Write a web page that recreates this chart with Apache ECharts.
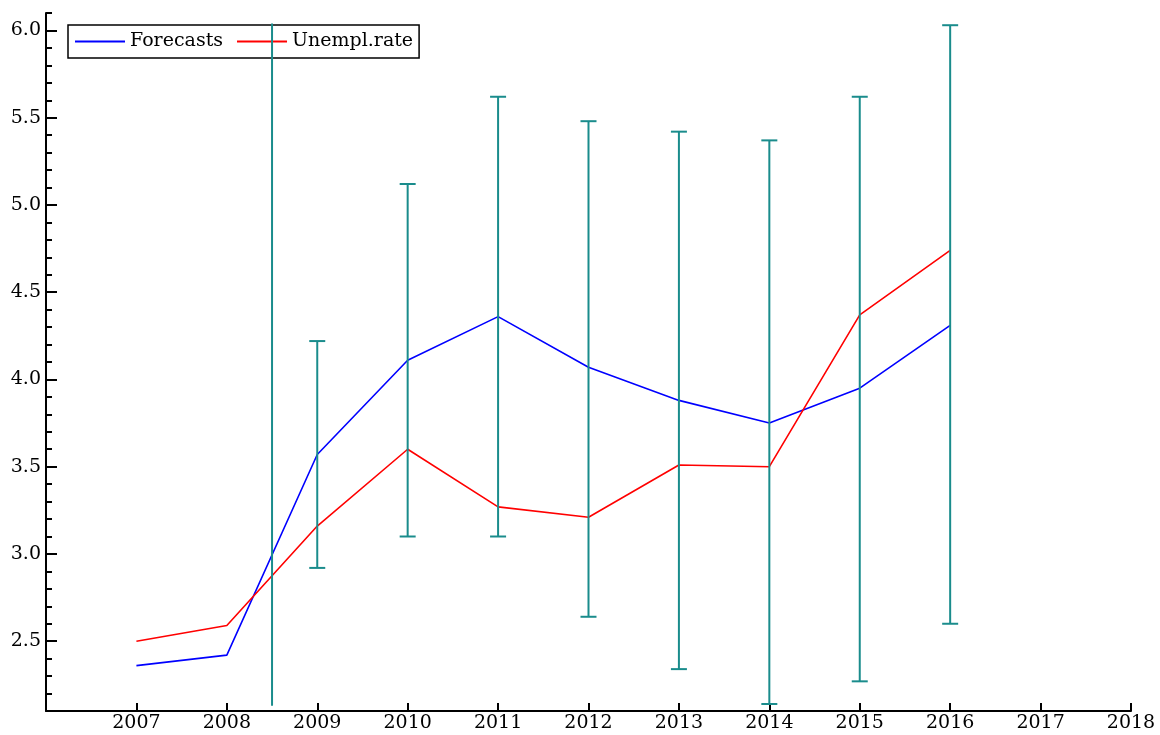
<!DOCTYPE html>
<html>
<head>
<meta charset="utf-8">
<script src="https://cdn.jsdelivr.net/npm/echarts@6/dist/echarts.min.js"></script>
<style>
  html, body { margin: 0; padding: 0; background: #fff; }
  #chart { width: 1160px; height: 735px; }
</style>
</head>
<body>
<div id="chart"></div>
<script>
// Annual observations
const years = [2007, 2008, 2009, 2010, 2011, 2012, 2013, 2014, 2015, 2016];
const forecasts = [2.36, 2.42, 3.57, 4.11, 4.36, 4.07, 3.88, 3.75, 3.95, 4.31];
const unemplRate = [2.50, 2.59, 3.16, 3.60, 3.27, 3.21, 3.51, 3.50, 4.37, 4.74];

// Forecast error bands (vertical bars)
const bandX = [2008.5, 2009, 2010, 2011, 2012, 2013, 2014, 2015, 2016];
const bandLow = [2.13, 2.92, 3.10, 3.10, 2.64, 2.34, 2.14, 2.27, 2.60];
const bandHigh = [6.04, 4.22, 5.12, 5.62, 5.48, 5.42, 5.37, 5.62, 6.03];
const bandCapped = [0, 1, 1, 1, 1, 1, 1, 1, 1];

// Axis ticks
const xTicks = [2007, 2008, 2009, 2010, 2011, 2012, 2013, 2014, 2015, 2016, 2017, 2018];
const yMajorTicks = [2.5, 3.0, 3.5, 4.0, 4.5, 5.0, 5.5, 6.0];
const yMinorTicks = [2.1, 2.2, 2.3, 2.4, 2.6, 2.7, 2.8, 2.9, 3.1, 3.2, 3.3, 3.4,
                     3.6, 3.7, 3.8, 3.9, 4.1, 4.2, 4.3, 4.4, 4.6, 4.7, 4.8, 4.9,
                     5.1, 5.2, 5.3, 5.4, 5.6, 5.7, 5.8, 5.9, 6.1];

const FONT = 'DejaVu Serif';
const chart = echarts.init(document.getElementById('chart'));

const lineData = (vals) => years.map((y, i) => [y, vals[i]]);
const bandData = bandX.map((x, i) => [x, bandLow[i], bandHigh[i], bandCapped[i]]);

chart.setOption({
  animation: false,
  backgroundColor: '#fff',
  grid: { left: 46, right: 29, top: 13, bottom: 24, containLabel: false },
  legend: {
    left: 68, top: 25,
    data: ['Forecasts', 'Unempl.rate'],
    icon: 'rect',
    itemWidth: 50, itemHeight: 2,
    itemGap: 14,
    padding: [6, 6, 6, 7],
    borderColor: '#000', borderWidth: 1.5,
    backgroundColor: 'transparent',
    textStyle: { fontFamily: FONT, fontSize: 19, color: '#000', lineHeight: 21, padding: [0, 0, 0, 0] }
  },
  xAxis: {
    type: 'value', min: 2006, max: 2018,
    axisLine: { lineStyle: { color: '#000', width: 2 } },
    axisTick: { inside: true, length: 8, customValues: xTicks, lineStyle: { color: '#000', width: 2 } },
    axisLabel: { customValues: xTicks, fontFamily: FONT, fontSize: 19, color: '#000', margin: 3,
                 formatter: (v) => String(v) },
    splitLine: { show: false }
  },
  yAxis: [{
    type: 'value', min: 2.1, max: 6.1, position: 'left',
    axisLine: { show: true, lineStyle: { color: '#000', width: 2 } },
    axisTick: { show: true, inside: true, length: 11, customValues: yMajorTicks, lineStyle: { color: '#000', width: 2 } },
    axisLabel: { customValues: yMajorTicks, fontFamily: FONT, fontSize: 19, color: '#000', margin: 5,
                 formatter: (v) => v.toFixed(1) },
    splitLine: { show: false }
  }, {
    type: 'value', min: 2.1, max: 6.1, position: 'left', offset: 0,
    axisLine: { show: false },
    axisTick: { show: true, inside: true, length: 6, customValues: yMinorTicks, lineStyle: { color: '#000', width: 2 } },
    axisLabel: { show: false },
    splitLine: { show: false }
  }],
  series: [{
    name: 'Forecasts', type: 'line', data: lineData(forecasts),
    showSymbol: false, symbol: 'none',
    lineStyle: { color: '#0000ff', width: 1.6 }, itemStyle: { color: '#0000ff' }, z: 2
  }, {
    name: 'Unempl.rate', type: 'line', data: lineData(unemplRate),
    showSymbol: false, symbol: 'none',
    lineStyle: { color: '#ff0000', width: 1.6 }, itemStyle: { color: '#ff0000' }, z: 3
  }, {
    name: 'bands', type: 'custom', data: bandData, z: 4,
    encode: { x: 0, y: [1, 2] },
    renderItem: (params, api) => {
      const lo = api.coord([api.value(0), api.value(1)]);
      const hi = api.coord([api.value(0), api.value(2)]);
      const style = { stroke: '#1a8c8c', lineWidth: 2 };
      const children = [{ type: 'line', shape: { x1: lo[0], y1: lo[1], x2: hi[0], y2: hi[1] }, style }];
      if (api.value(3)) {
        const w = 8;
        children.push({ type: 'line', shape: { x1: lo[0] - w, y1: lo[1], x2: lo[0] + w, y2: lo[1] }, style });
        children.push({ type: 'line', shape: { x1: hi[0] - w, y1: hi[1], x2: hi[0] + w, y2: hi[1] }, style });
      }
      return { type: 'group', children };
    }
  }]
});
</script>
</body>
</html>
